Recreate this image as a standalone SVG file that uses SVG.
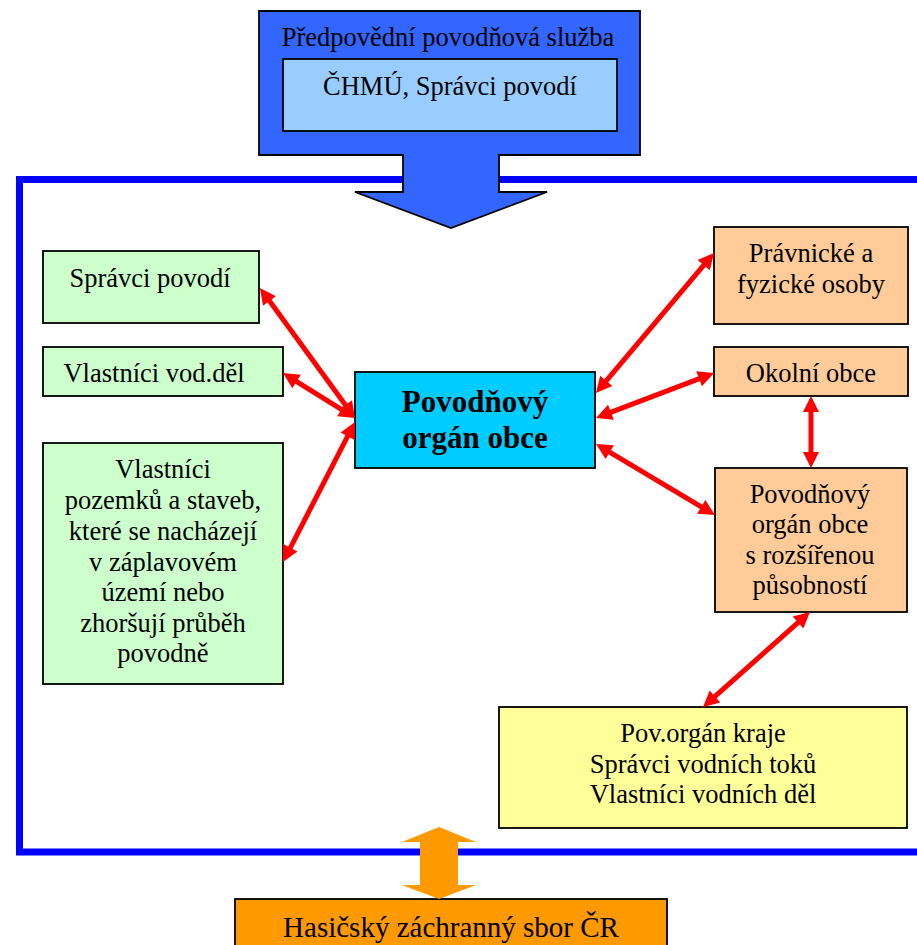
<svg xmlns="http://www.w3.org/2000/svg" width="917" height="945" viewBox="0 0 917 945">
<style>
text{font-family:"Liberation Serif","Times New Roman",serif;font-size:26.5px;fill:#000;text-anchor:middle}
.box{stroke:#000;stroke-width:1.8}
.green{fill:#CCFFCC}
.peach{fill:#FFCC99}
.bold{font-weight:bold;font-size:31px}
.conn line{stroke:#FF0000;stroke-width:5;marker-start:url(#ah);marker-end:url(#ah)}
</style>
<defs>
<marker id="ah" markerUnits="userSpaceOnUse" markerWidth="17" markerHeight="17" refX="6" refY="8" orient="auto-start-reverse" overflow="visible">
<path d="M0,0 L16,8 L0,16 Z" fill="#FF0000"/>
</marker>
</defs>
<rect id="frame" x="19.5" y="179.5" width="910" height="672.5" fill="none" stroke="#0000FF" stroke-width="7"/>
<g id="predpoved">
<path class="box" d="M259,11 H640 V155 H499 V192 H547 L451,228 L355,192 H403 V155 H259 Z" fill="#3366FF"/>
<text x="448" y="46">Předpovědní povodňová služba</text>
</g>
<g id="chmu">
<rect class="box" x="283" y="59" width="334" height="72" fill="#99CCFF"/>
<text x="450" y="95">ČHMÚ, Správci povodí</text>
</g>
<g id="spravci">
<rect class="box green" x="43" y="251" width="216" height="72"/>
<text x="150" y="287">Správci povodí</text>
</g>
<g id="vlastnici-vod">
<rect class="box green" x="43" y="347" width="240" height="49"/>
<text x="154" y="382">Vlastníci vod.děl</text>
</g>
<g id="vlastnici-pozemku">
<rect class="box green" x="43" y="443" width="240" height="241"/>
<text x="163" y="478">Vlastníci</text>
<text x="163" y="509">pozemků a staveb,</text>
<text x="163" y="540">které se nacházejí</text>
<text x="163" y="571">v záplavovém</text>
<text x="163" y="601">území nebo</text>
<text x="163" y="632">zhoršují průběh</text>
<text x="163" y="662">povodně</text>
</g>
<g id="povodnovy-organ">
<rect class="box" x="355" y="372" width="240" height="96" fill="#00CCFF"/>
<text class="bold" x="475" y="412">Povodňový</text>
<text class="bold" x="475" y="448">orgán obce</text>
</g>
<g id="pravnicke">
<rect class="box peach" x="714" y="227" width="194" height="97"/>
<text x="811" y="262">Právnické a</text>
<text x="811" y="293">fyzické osoby</text>
</g>
<g id="okolni">
<rect class="box peach" x="714" y="347" width="194" height="49"/>
<text x="811" y="382">Okolní obce</text>
</g>
<g id="orp">
<rect class="box peach" x="715" y="468" width="192" height="144"/>
<text x="810" y="503">Povodňový</text>
<text x="810" y="533">orgán obce</text>
<text x="810" y="564">s rozšířenou</text>
<text x="810" y="594">působností</text>
</g>
<g id="kraj">
<rect class="box" x="499" y="707" width="408" height="121" fill="#FFFF99"/>
<text x="703" y="742">Pov.orgán kraje</text>
<text x="703" y="773">Správci vodních toků</text>
<text x="703" y="803">Vlastníci vodních děl</text>
</g>
<g id="hzs">
<rect class="box" x="235" y="899" width="432" height="60" fill="#FF9900"/>
<text x="451" y="937" style="font-size:29px">Hasičský záchranný sbor ČR</text>
</g>
<g id="connectors" class="conn">
<line x1="265.9" y1="296.1" x2="349.1" y2="409.9"/>
<line x1="291.5" y1="378.3" x2="346.5" y2="412.7"/>
<line x1="287.6" y1="553.1" x2="350.4" y2="430.9"/>
<line x1="602.4" y1="385.4" x2="707.6" y2="260.6"/>
<line x1="605.3" y1="414.4" x2="704.7" y2="376.6"/>
<line x1="604.6" y1="449.1" x2="706.4" y2="509.9"/>
<line x1="811" y1="406" x2="811" y2="458"/>
<line x1="802.5" y1="618.6" x2="710.5" y2="700.4"/>
<polygon points="439,827 476,842 458,842 458,885 476,885 439,899 402,885 420,885 420,842 402,842" fill="#FF9900"/>
</g>
</svg>
